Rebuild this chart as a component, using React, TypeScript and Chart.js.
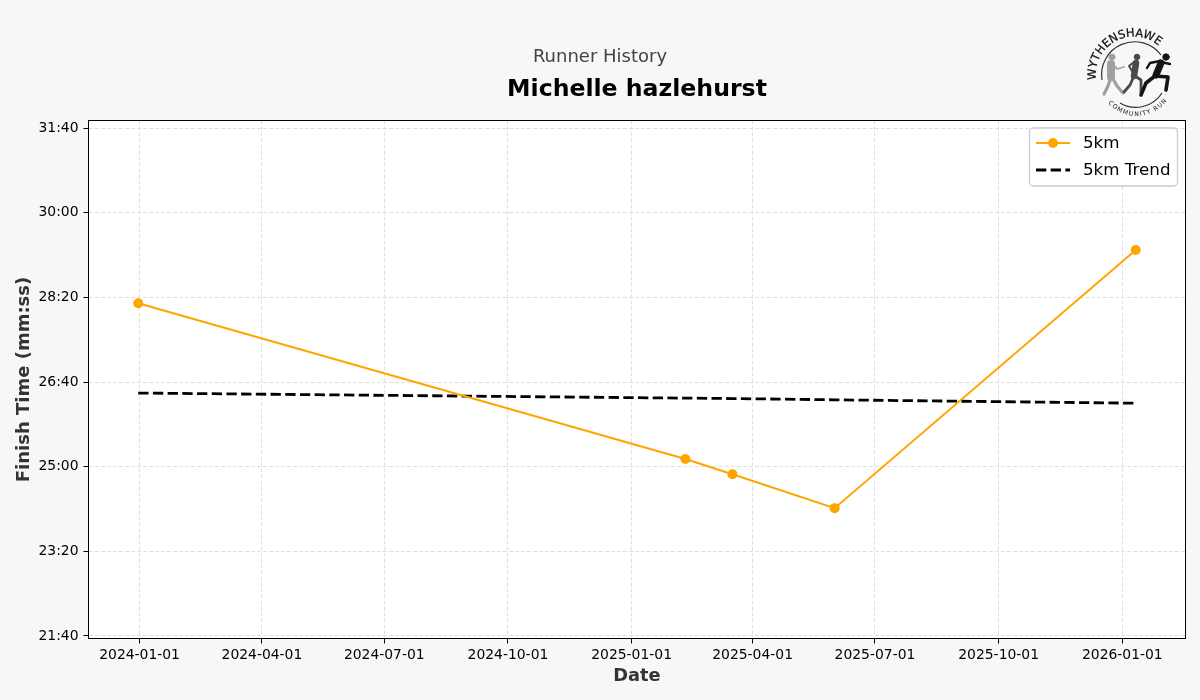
import React, { useEffect, useRef } from "react";
import { Chart, registerables } from "chart.js";

Chart.register(...registerables);

const SANS = '"DejaVu Sans", sans-serif';

const runDates = ["2023-12-31", "2025-02-10", "2025-03-17", "2025-06-01", "2026-01-11"];
const finishSeconds = [1693, 1509, 1491, 1451, 1756];
const trendSeconds = [1587, 1581, 1580.5, 1579, 1575];
const xTickDates = [
  "2024-01-01", "2024-04-01", "2024-07-01", "2024-10-01", "2025-01-01",
  "2025-04-01", "2025-07-01", "2025-10-01", "2026-01-01",
];
const yTickSeconds = [1300, 1400, 1500, 1600, 1700, 1800, 1900];
const xRange = ["2023-11-24", "2026-02-17"];
const yRange = [1297, 1909];
const seriesLabels = ["5km", "5km Trend"];

const ts = (d: string) => Date.parse(d + "T00:00:00Z");
const toDate = (v: number) => new Date(v).toISOString().slice(0, 10);
const mmss = (v: number) => {
  const m = Math.floor(v / 60);
  const s = Math.round(v - m * 60);
  return `${m}:${String(s).padStart(2, "0")}`;
};

const plotFrame = {
  id: "plotFrame",
  beforeDraw(chart: any) {
    const { ctx, chartArea: a } = chart;
    ctx.save();
    ctx.fillStyle = "#f7f7f7";
    ctx.fillRect(0, 0, chart.width, chart.height);
    ctx.fillStyle = "#ffffff";
    ctx.fillRect(a.left, a.top, a.right - a.left, a.bottom - a.top);
    ctx.restore();
  },
  afterDatasetsDraw(chart: any) {
    const { ctx, chartArea: a } = chart;
    ctx.save();
    ctx.strokeStyle = "#000";
    ctx.lineWidth = 1;
    ctx.strokeRect(a.left, a.top, a.right - a.left, a.bottom - a.top);

    // legend frame
    const bx = a.right - 156, by = a.top + 7.5, bw = 148, bh = 58;
    ctx.fillStyle = "rgba(255,255,255,0.85)";
    ctx.strokeStyle = "#cccccc";
    ctx.lineWidth = 1.3;
    ctx.beginPath();
    ctx.roundRect(bx, by, bw, bh, 4);
    ctx.fill();
    ctx.stroke();

    const sx = bx + 6.5, sw = 34, y1 = by + 15, y2 = by + 42;
    ctx.strokeStyle = "#ffa500";
    ctx.lineWidth = 2;
    ctx.beginPath();
    ctx.moveTo(sx, y1);
    ctx.lineTo(sx + sw, y1);
    ctx.stroke();
    ctx.fillStyle = "#ffa500";
    ctx.beginPath();
    ctx.arc(sx + sw / 2, y1, 5, 0, Math.PI * 2);
    ctx.fill();
    ctx.strokeStyle = "#000";
    ctx.lineWidth = 2.8;
    ctx.setLineDash([10.3, 4.4]);
    ctx.beginPath();
    ctx.moveTo(sx, y2);
    ctx.lineTo(sx + sw, y2);
    ctx.stroke();
    ctx.setLineDash([]);
    ctx.fillStyle = "#000";
    ctx.font = `16.7px ${SANS}`;
    ctx.textAlign = "left";
    ctx.textBaseline = "middle";
    ctx.fillText(seriesLabels[0], sx + sw + 13, y1 + 0.5);
    ctx.fillText(seriesLabels[1], sx + sw + 13, y2 + 0.5);
    ctx.restore();
  },
};

function Logo() {
  return (
    <svg
      width="120"
      height="110"
      viewBox="1070 15 120 110"
      style={{ position: "absolute", left: 1070, top: 15 }}
    >
      <defs>
        <path id="logoTop" d="M 1096.2 80 A 38 38 0 0 1 1168 58" />
        <path id="logoBottom" d="M 1108 103 A 38 38 0 0 0 1170 96" />
      </defs>
      <text fontFamily="DejaVu Sans, sans-serif" fontSize="11.5" fontWeight="500" fill="#111" stroke="#111" strokeWidth="0.25">
        <textPath href="#logoTop" textLength="92" lengthAdjust="spacing">WYTHENSHAWE</textPath>
      </text>
      <text fontFamily="DejaVu Sans, sans-serif" fontSize="6.2" fill="#111">
        <textPath href="#logoBottom" textLength="67" lengthAdjust="spacing">COMMUNITY RUN</textPath>
      </text>
      <path d="M 1102 80 A 33 33 0 0 1 1161 55" fill="none" stroke="#333" strokeWidth="1.2" />
      <path d="M 1120 103 A 31 31 0 0 0 1162 93" fill="none" stroke="#333" strokeWidth="1.2" />
      <g fill="none" strokeLinecap="round" strokeLinejoin="round">
        <g stroke="#a0a0a0">
          <circle cx="1112" cy="57" r="3" fill="#a0a0a0" />
          <path d="M 1111 64 L 1111 77" strokeWidth="8" />
          <path d="M 1113 64 L 1117 69 L 1124 67" strokeWidth="1.8" />
          <path d="M 1111 77 L 1108 86 L 1104 94" strokeWidth="3.2" />
          <path d="M 1112 77 L 1117 86 L 1123 93" strokeWidth="3.2" />
        </g>
        <g stroke="#4a4a4a">
          <circle cx="1137" cy="57" r="2.8" fill="#4a4a4a" />
          <path d="M 1136 63 L 1134 76" strokeWidth="6.5" />
          <path d="M 1134 62 L 1129 66 L 1132 71" strokeWidth="2" />
          <path d="M 1134 76 L 1130 85 L 1124 92" strokeWidth="2.8" />
          <path d="M 1135 76 L 1141 80 L 1141 93" strokeWidth="2.8" />
        </g>
        <g stroke="#141414">
          <circle cx="1166" cy="57" r="3.2" fill="#141414" />
          <path d="M 1161 63 L 1156 75" strokeWidth="7" />
          <path d="M 1160 61 L 1150 63 L 1147 68" strokeWidth="2.4" />
          <path d="M 1161 62 L 1170 64" strokeWidth="2.4" />
          <path d="M 1155 76 L 1146 83 L 1141 95" strokeWidth="3.6" />
          <path d="M 1155 76 L 1168 77 L 1166 90" strokeWidth="3.6" />
        </g>
      </g>
    </svg>
  );
}

export default function App() {
  const canvasRef = useRef<HTMLCanvasElement>(null);

  useEffect(() => {
    document.body.style.margin = "0";
    document.body.style.background = "#f7f7f7";
    const chart = new Chart(canvasRef.current!, {
      type: "line",
      data: {
        datasets: [
          {
            label: seriesLabels[0],
            data: runDates.map((d, i) => ({ x: ts(d), y: finishSeconds[i] })),
            borderColor: "#ffa500",
            backgroundColor: "#ffa500",
            borderWidth: 2,
            pointRadius: 5,
            pointBorderWidth: 0,
            tension: 0,
          },
          {
            label: seriesLabels[1],
            data: runDates.map((d, i) => ({ x: ts(d), y: trendSeconds[i] })),
            borderColor: "#000000",
            borderWidth: 2.8,
            borderDash: [10.3, 4.4],
            pointRadius: 0,
            tension: 0,
          },
        ],
      },
      options: {
        responsive: false,
        animation: false,
        layout: { padding: 0 },
        plugins: {
          legend: { display: false },
          tooltip: { enabled: false },
          title: {
            display: true,
            text: "Runner History",
            color: "#444444",
            font: { family: SANS, size: 18, weight: "normal" },
            padding: { top: 46.7, bottom: 7.04 },
          },
          subtitle: {
            display: true,
            text: "Michelle hazlehurst",
            color: "#000000",
            fullSize: false,
            font: { family: SANS, size: 23.6, weight: "bold" },
            padding: { top: 0, bottom: 16.84 },
          },
        },
        scales: {
          x: {
            type: "linear",
            min: ts(xRange[0]),
            max: ts(xRange[1]),
            afterFit: (s: any) => { s.height = 61.5; },
            afterBuildTicks: (s: any) => { s.ticks = xTickDates.map((d) => ({ value: ts(d) })); },
            grid: { color: "#e0e0e0", tickColor: "#000", tickLength: 5, drawTicks: true },
            border: { dash: [4, 2], display: false },
            ticks: {
              color: "#000",
              font: { family: SANS, size: 13.9 },
              padding: 4,
              maxRotation: 0,
              autoSkip: false,
              callback: (v: any) => toDate(Number(v)),
            },
            title: {
              display: true,
              text: "Date",
              color: "#333333",
              font: { family: SANS, size: 17.8, weight: "bold" },
              padding: { top: 0, bottom: 12.5 },
            },
          },
          y: {
            min: yRange[0],
            max: yRange[1],
            afterFit: (s: any) => { s.width = 88.5; },
            afterBuildTicks: (s: any) => { s.ticks = yTickSeconds.map((v) => ({ value: v })); },
            grid: { color: "#e0e0e0", tickColor: "#000", tickLength: 5 },
            border: { dash: [4, 2], display: false },
            ticks: {
              color: "#000",
              font: { family: SANS, size: 13.9 },
              padding: 5,
              callback: (v: any) => mmss(Number(v)),
            },
            title: {
              display: true,
              text: "Finish Time (mm:ss)",
              color: "#333333",
              font: { family: SANS, size: 18, weight: "bold" },
              padding: { top: 14, bottom: 0 },
            },
          },
          rightGutter: {
            position: "right",
            afterFit: (s: any) => { s.width = 14.5; },
            grid: { display: false },
            border: { display: false },
            ticks: { display: false },
          },
        },
      },
      plugins: [plotFrame],
    } as any);
    return () => chart.destroy();
  }, []);

  return (
    <div style={{ position: "absolute", left: 0, top: 0, width: 1200, height: 700, background: "#f7f7f7" }}>
      <canvas ref={canvasRef} width={1200} height={700} style={{ display: "block" }} />
      <Logo />
    </div>
  );
}
